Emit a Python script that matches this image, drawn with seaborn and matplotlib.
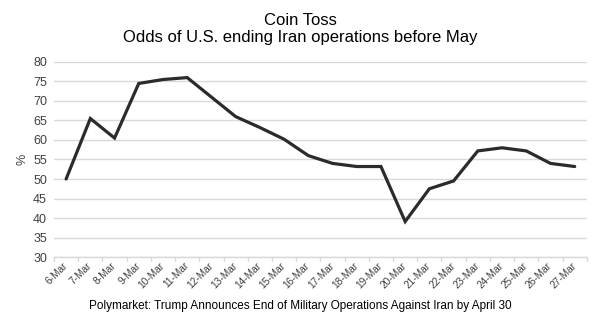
import matplotlib
matplotlib.use("Agg")
import matplotlib.pyplot as plt
import seaborn as sns
import pandas as pd

dates = ["6-Mar", "7-Mar", "8-Mar", "9-Mar", "10-Mar", "11-Mar", "12-Mar", "13-Mar",
         "14-Mar", "15-Mar", "16-Mar", "17-Mar", "18-Mar", "19-Mar", "20-Mar", "21-Mar",
         "22-Mar", "23-Mar", "24-Mar", "25-Mar", "26-Mar", "27-Mar"]
odds = [50, 65.5, 60.5, 74.5, 75.5, 76, 71, 66, 63.2, 60.2, 56, 54, 53.2, 53.2,
        39.1, 47.5, 49.5, 57.2, 58, 57.2, 54, 53.2]
y_ticks = list(range(30, 85, 5))

sns.set_theme(style="white")
plt.rcParams["font.family"] = ["Liberation Sans", "DejaVu Sans"]

df = pd.DataFrame({"pos": range(len(dates)), "odds": odds})

fig = plt.figure(figsize=(6, 3.29), dpi=100)
ax = fig.add_axes([0.09, 0.2188, 0.888, 0.5928])

for y in y_ticks:
    ax.axhline(y, color="#d9d9d9", lw=1.0, zorder=0)

sns.lineplot(data=df, x="pos", y="odds", ax=ax, color="#2b2b2b", lw=2.3,
             solid_joinstyle="miter", zorder=3)

ax.set_xlim(-0.5, len(dates) - 0.5)
ax.set_ylim(30, 80)
ax.set_yticks(y_ticks)
ax.set_yticklabels([str(v) for v in y_ticks], fontsize=9, color="#404040")
ax.set_xticks(range(len(dates)))
ax.set_xticklabels(dates, rotation=45, ha="right", va="center", rotation_mode="anchor",
                   fontsize=7.3, color="#404040")
ax.tick_params(axis="x", length=0, pad=5)
ax.tick_params(axis="y", length=0, pad=5)

# Excel-style tick marks between categories
for i in range(len(dates) + 1):
    ax.plot([i - 0.5, i - 0.5], [30, 28.9], color="#d9d9d9", lw=1.0,
            clip_on=False, zorder=1)

for side in ["top", "right", "left"]:
    ax.spines[side].set_visible(False)
ax.spines["bottom"].set_color("#d9d9d9")
ax.spines["bottom"].set_linewidth(1.0)

ax.set_xlabel("")
ax.set_ylabel("%", fontsize=9, color="#404040", labelpad=3)

fig.text(0.5, 1 - 306 / 329, "Polymarket: Trump Announces End of Military Operations Against Iran by April 30",
         ha="center", va="center", fontsize=8.5, color="#000000")

fig.text(0.5, 1 - 25 / 329, "Coin Toss", ha="center", va="baseline",
         fontsize=12, color="#000000")
fig.text(0.5, 1 - 42 / 329, "Odds of U.S. ending Iran operations before May", ha="center",
         va="baseline", fontsize=12, color="#000000")

fig.savefig("out.png", dpi=100, facecolor="white")
